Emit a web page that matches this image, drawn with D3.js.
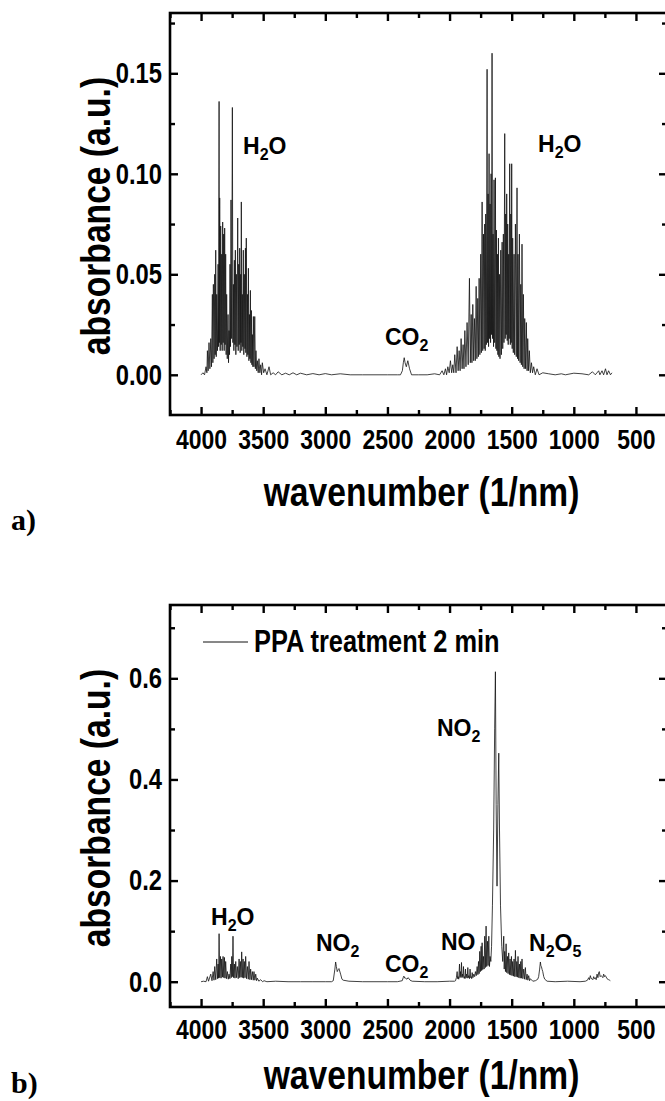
<!DOCTYPE html>
<html>
<head>
<meta charset="utf-8">
<script src="https://cdn.jsdelivr.net/npm/d3@7"></script>
<style>
  body { margin: 0; background: #fff; }
  svg { display: block; font-family: "Liberation Sans", Arial, sans-serif; font-weight: bold; }
</style>
</head>
<body>
<svg id="vis" width="665" height="1101"></svg>
<script>
const svg = d3.select("#vis");

// x axis (shared by both panels)
const X_TICKS = [4000, 3500, 3000, 2500, 2000, 1500, 1000, 500];

// panel a: spectrum as [wavenumber, absorbance]
const aWaterHigh = [
  [4000,0.000],[3985,0.001],[3972,0.000],[3960,0.004],[3953,0.001],[3949,0.012],[3943,0.002],[3936,0.016],[3929,0.003],
  [3922,0.018],[3916,0.004],[3909,0.040],[3905,0.006],[3901,0.045],[3895,0.008],[3890,0.050],[3886,0.010],[3882,0.062],
  [3878,0.009],[3874,0.040],[3868,0.012],[3863,0.055],[3859,0.014],[3855,0.136],[3853,0.016],[3850,0.088],[3846,0.012],
  [3842,0.074],[3838,0.015],[3834,0.060],[3830,0.012],[3826,0.076],[3822,0.016],[3818,0.070],[3814,0.012],[3810,0.073],
  [3806,0.015],[3802,0.060],[3798,0.010],[3794,0.040],[3789,0.008],[3783,0.030],[3779,0.006],[3775,0.022],[3771,0.010],
  [3767,0.055],[3763,0.014],[3759,0.087],[3754,0.018],[3748,0.133],[3744,0.016],[3740,0.045],[3736,0.012],[3732,0.057],
  [3728,0.015],[3724,0.062],[3720,0.010],[3716,0.050],[3711,0.014],[3705,0.078],[3701,0.012],[3697,0.055],[3693,0.015],
  [3689,0.063],[3685,0.011],[3681,0.050],[3679,0.016],[3676,0.086],[3672,0.012],[3668,0.040],[3664,0.014],[3660,0.062],
  [3656,0.010],[3652,0.050],[3647,0.013],[3643,0.063],[3640,0.011],[3636,0.068],[3631,0.009],[3627,0.040],[3623,0.010],
  [3619,0.053],[3615,0.007],[3611,0.030],[3607,0.008],[3603,0.042],[3599,0.006],[3595,0.032],[3591,0.005],[3587,0.020],
  [3583,0.004],[3579,0.029],[3574,0.004],[3568,0.029],[3563,0.003],[3558,0.012],[3552,0.002],[3547,0.007],[3540,0.001],
  [3534,0.008],[3527,0.001],[3520,0.005],[3513,0.000],[3507,0.006],[3496,0.001],[3485,0.003],[3470,0.000],[3453,0.004],
  [3440,0.000],[3420,0.001],[3400,0.000],[3380,0.0015],[3350,0.000],[3320,0.0008],[3290,0.000],[3260,0.001],[3230,0.000],
  [3200,0.0008],[3150,0.000],[3100,0.0006],[3050,0.000],[3000,0.0006],[2950,0.000],[2880,0.0005],[2800,0.000],[2700,0.000],
  [2600,0.000],[2500,0.000],[2420,0.000]
];
const aCO2 = [
  [2395,0.000],[2380,0.002],[2372,0.006],[2365,0.0085],[2358,0.006],[2348,0.004],[2336,0.007],[2322,0.003],[2306,0.000],
  [2250,0.000],[2180,0.000],[2120,0.0005],[2080,0.000]
];
const aWaterLow = [
  [2060,0.002],[2046,0.000],[2033,0.003],[2024,0.000],[2014,0.004],[2003,0.001],[1993,0.007],[1983,0.001],[1974,0.005],
  [1966,0.001],[1958,0.010],[1948,0.001],[1939,0.014],[1931,0.002],[1923,0.012],[1915,0.002],[1907,0.018],[1899,0.003],
  [1891,0.015],[1884,0.003],[1877,0.022],[1868,0.004],[1859,0.026],[1850,0.005],[1840,0.048],[1833,0.006],[1826,0.030],
  [1820,0.006],[1813,0.035],[1806,0.007],[1800,0.028],[1793,0.007],[1786,0.044],[1780,0.008],[1773,0.038],[1768,0.009],
  [1762,0.048],[1756,0.010],[1749,0.060],[1744,0.011],[1738,0.086],[1733,0.012],[1727,0.070],[1722,0.013],[1717,0.075],
  [1713,0.012],[1709,0.080],[1704,0.015],[1698,0.152],[1694,0.016],[1690,0.090],[1686,0.014],[1682,0.110],[1678,0.018],
  [1674,0.085],[1670,0.016],[1666,0.100],[1662,0.020],[1658,0.160],[1654,0.018],[1650,0.070],[1646,0.014],[1642,0.097],
  [1637,0.016],[1631,0.098],[1627,0.013],[1623,0.072],[1619,0.012],[1615,0.060],[1611,0.010],[1607,0.068],[1603,0.009],
  [1599,0.050],[1594,0.008],[1588,0.062],[1583,0.010],[1577,0.066],[1572,0.013],[1567,0.070],[1562,0.016],[1556,0.120],
  [1552,0.018],[1548,0.080],[1544,0.020],[1540,0.090],[1536,0.017],[1532,0.075],[1528,0.015],[1524,0.060],[1520,0.018],
  [1516,0.105],[1511,0.015],[1507,0.080],[1504,0.016],[1500,0.105],[1496,0.013],[1492,0.068],[1487,0.011],[1481,0.060],
  [1476,0.010],[1470,0.075],[1463,0.009],[1457,0.093],[1453,0.008],[1449,0.060],[1444,0.007],[1438,0.070],[1432,0.006],
  [1427,0.045],[1422,0.005],[1417,0.065],[1411,0.004],[1406,0.040],[1400,0.003],[1395,0.028],[1388,0.003],[1382,0.026],
  [1376,0.002],[1371,0.018],[1364,0.002],[1358,0.012],[1350,0.001],[1341,0.006],[1332,0.001],[1323,0.004],[1310,0.000],
  [1296,0.003],[1280,0.000],[1250,0.001],[1202,0.0005],[1150,0.000],[1100,0.0005],[1068,0.000],[1000,0.0008],[934,0.0005],
  [880,0.000],[850,0.0015],[827,0.000],[800,0.002],[790,0.000],[773,0.002],[760,0.000],[745,0.003],[733,0.000],[720,0.002],
  [705,0.000],[693,0.001]
];

// panel b: spectrum after PPA treatment
const bWater = [
  [4000,0.000],[3980,0.001],[3960,0.000],[3949,0.010],[3940,0.001],[3922,0.015],[3912,0.002],[3903,0.020],[3896,0.003],
  [3890,0.030],[3882,0.004],[3874,0.045],[3868,0.006],[3863,0.035],[3859,0.007],[3855,0.095],[3850,0.008],[3844,0.050],
  [3839,0.007],[3834,0.045],[3828,0.009],[3823,0.050],[3817,0.008],[3812,0.048],[3807,0.007],[3802,0.040],[3795,0.006],
  [3788,0.020],[3781,0.005],[3775,0.015],[3768,0.006],[3761,0.035],[3757,0.008],[3753,0.050],[3748,0.010],[3743,0.090],
  [3738,0.008],[3732,0.035],[3727,0.007],[3721,0.040],[3715,0.008],[3708,0.030],[3701,0.006],[3694,0.045],[3689,0.008],
  [3684,0.040],[3678,0.009],[3673,0.059],[3668,0.008],[3662,0.045],[3657,0.007],[3652,0.040],[3646,0.008],[3641,0.050],
  [3634,0.006],[3627,0.030],[3620,0.005],[3614,0.040],[3607,0.004],[3601,0.025],[3594,0.004],[3587,0.020],[3580,0.003],
  [3574,0.020],[3567,0.003],[3560,0.015],[3553,0.002],[3547,0.007],[3535,0.001],[3520,0.004],[3505,0.000],[3493,0.002],
  [3470,0.000],[3400,0.001],[3300,0.000],[3200,0.000],[3100,0.000],[3000,0.000],[2950,0.000]
];
const bNO2High = [
  [2936,0.002],[2923,0.025],[2917,0.039],[2911,0.030],[2904,0.020],[2896,0.024],[2890,0.026],[2877,0.015],[2866,0.005],
  [2856,0.003],[2810,0.001],[2700,0.000],[2600,0.000],[2500,0.000],[2420,0.000]
];
const bCO2 = [
  [2381,0.002],[2373,0.008],[2368,0.011],[2360,0.007],[2354,0.007],[2343,0.005],[2333,0.008],[2318,0.003],[2301,0.001],
  [2200,0.000],[2100,0.000],[2000,0.001],[1960,0.001]
];
const bNO = [
  [1952,0.002],[1945,0.008],[1939,0.020],[1935,0.006],[1931,0.010],[1926,0.005],[1920,0.035],[1916,0.008],[1912,0.020],
  [1908,0.010],[1904,0.038],[1900,0.008],[1896,0.015],[1892,0.010],[1888,0.030],[1884,0.007],[1880,0.010],[1876,0.006],
  [1872,0.025],[1868,0.008],[1864,0.015],[1858,0.007],[1853,0.028],[1849,0.008],[1845,0.012],[1840,0.006],[1835,0.025],
  [1830,0.008],[1826,0.010],[1822,0.006],[1818,0.018],[1812,0.008],[1805,0.015],[1798,0.010],[1792,0.020],[1785,0.012],
  [1778,0.030],[1772,0.014],[1767,0.040],[1762,0.016],[1757,0.060],[1752,0.020],[1746,0.070],[1742,0.022],[1738,0.077],
  [1733,0.024],[1727,0.050],[1722,0.025],[1717,0.090],[1712,0.028],[1706,0.110],[1701,0.030],[1695,0.080],[1690,0.032],
  [1684,0.090],[1679,0.030],[1674,0.050],[1668,0.040]
];
const bNO2Main = [
  [1662,0.070],[1655,0.150],[1645,0.300],[1637,0.500],[1631,0.613],[1625,0.350],[1618,0.189],[1611,0.350],[1604,0.452],
  [1598,0.300],[1590,0.150],[1580,0.070],[1572,0.040]
];
const bNO2Low = [
  [1564,0.090],[1560,0.025],[1556,0.060],[1550,0.020],[1545,0.075],[1540,0.018],[1534,0.050],[1529,0.016],[1524,0.057],
  [1518,0.014],[1513,0.045],[1507,0.013],[1502,0.050],[1497,0.012],[1492,0.040],[1486,0.011],[1481,0.045],[1475,0.010],
  [1470,0.062],[1464,0.010],[1459,0.040],[1454,0.009],[1449,0.050],[1443,0.008],[1438,0.035],[1432,0.007],[1427,0.040],
  [1422,0.007],[1417,0.045],[1410,0.006],[1403,0.025],[1396,0.005],[1390,0.028],[1383,0.004],[1376,0.015],[1370,0.003],
  [1363,0.012],[1356,0.002],[1350,0.006],[1330,0.001],[1309,0.002]
];
const bN2O5 = [
  [1290,0.005],[1283,0.010],[1275,0.025],[1269,0.039],[1265,0.032],[1261,0.030],[1255,0.024],[1250,0.020],[1242,0.010],
  [1234,0.005],[1215,0.001],[1150,0.000],[1050,0.001],[950,0.000],[907,0.001]
];
const bTail = [
  [890,0.003],[880,0.008],[874,0.004],[867,0.012],[860,0.006],[854,0.006],[847,0.004],[840,0.010],[834,0.006],[827,0.008],
  [820,0.004],[813,0.015],[806,0.008],[800,0.018],[795,0.020],[788,0.010],[780,0.012],[773,0.010],[766,0.008],[760,0.015],
  [752,0.010],[746,0.012],[741,0.010],[733,0.006],[720,0.004],[712,0.003],[706,0.002]
];

const FONT = "'Liberation Sans', Arial, sans-serif";
const SQUEEZE = 0.82; // the figure's lettering is narrow, like Arial Narrow

const panels = [
  {
    top: 13, bottom: 415, yDomain: [-0.02, 0.18], yTicks: [0, 0.05, 0.10, 0.15], yMinor: 0.025, yFmt: ".2f",
    series: [aWaterHigh, aCO2, aWaterLow],
    notes: [
      {x: 243, y: 154, text: ["H", "2", "O"]},
      {x: 538, y: 152, text: ["H", "2", "O"]},
      {x: 385, y: 345, text: ["CO", "2", ""]}
    ],
    letter: "a)", letterY: 530, tickLabelY: 449, titleY: 506
  },
  {
    top: 605, bottom: 1007, yDomain: [-0.05, 0.745], yTicks: [0, 0.2, 0.4, 0.6], yMinor: 0.1, yFmt: ".1f",
    series: [bWater, bNO2High, bCO2, bNO, bNO2Main, bNO2Low, bN2O5, bTail],
    notes: [
      {x: 211, y: 925, text: ["H", "2", "O"]},
      {x: 316, y: 951, text: ["NO", "2", ""]},
      {x: 385, y: 972, text: ["CO", "2", ""]},
      {x: 441, y: 950, text: ["NO", "", ""]},
      {x: 529, y: 951, text: ["N", "2", "O", "5"]},
      {x: 437, y: 736, text: ["NO", "2", ""]}
    ],
    legend: "PPA treatment 2 min",
    letter: "b)", letterY: 1093, tickLabelY: 1039, titleY: 1089
  }
];

const LEFT = 170, RIGHT = 667;
const x = d3.scaleLinear().domain([4250, 250]).range([LEFT, RIGHT]);

function drawPanel(p) {
  const y = d3.scaleLinear().domain(p.yDomain).range([p.bottom, p.top]);
  const g = svg.append("g");

  // spectrum
  const line = d3.line().x(d => x(d[0])).y(d => y(d[1]));
  const all = [].concat(...p.series);
  g.append("path")
    .attr("d", line(all))
    .attr("fill", "none")
    .attr("stroke", "#111")
    .attr("stroke-width", 0.8)
    .attr("stroke-linejoin", "round");

  // inward ticks, major and minor, on all four sides
  const xMinor = d3.range(4250, 249, -250).filter(v => v % 500 !== 0);
  const yMinorVals = [];
  for (let v = Math.ceil(p.yDomain[0] / p.yMinor) * p.yMinor; v < p.yDomain[1]; v += p.yMinor) {
    const r = +v.toFixed(4);
    if (!p.yTicks.some(t => Math.abs(t - r) < 1e-6)) yMinorVals.push(r);
  }

  const gb = g.append("g").attr("transform", `translate(0,${p.bottom})`)
    .call(d3.axisBottom(x).tickValues(X_TICKS).tickSize(-8).tickFormat(d3.format("d")));
  gb.selectAll("text").attr("font-size", 28).attr("font-family", FONT)
    .attr("font-weight", "bold").attr("fill", "#000").attr("dy", null)
    .attr("y", p.tickLabelY - p.bottom).attr("transform", `scale(${SQUEEZE},1)`);
  g.append("g").attr("transform", `translate(0,${p.bottom})`)
    .call(d3.axisBottom(x).tickValues(xMinor).tickSize(-5).tickFormat(""));
  g.append("g").attr("transform", `translate(0,${p.top})`)
    .call(d3.axisTop(x).tickValues(X_TICKS).tickSize(-8).tickFormat(""));
  g.append("g").attr("transform", `translate(0,${p.top})`)
    .call(d3.axisTop(x).tickValues(xMinor).tickSize(-5).tickFormat(""));

  const gl = g.append("g").attr("transform", `translate(${LEFT},0)`)
    .call(d3.axisLeft(y).tickValues(p.yTicks).tickSize(-8).tickFormat(d3.format(p.yFmt)));
  gl.selectAll("text").attr("font-size", 29).attr("font-family", FONT)
    .attr("font-weight", "bold").attr("fill", "#000")
    .attr("x", -8 / SQUEEZE).attr("transform", `scale(${SQUEEZE},1)`);
  g.append("g").attr("transform", `translate(${LEFT},0)`)
    .call(d3.axisLeft(y).tickValues(yMinorVals).tickSize(-5).tickFormat(""));
  g.append("g").attr("transform", `translate(${RIGHT},0)`)
    .call(d3.axisRight(y).tickValues(p.yTicks).tickSize(-8).tickFormat(""));
  g.append("g").attr("transform", `translate(${RIGHT},0)`)
    .call(d3.axisRight(y).tickValues(yMinorVals).tickSize(-5).tickFormat(""));

  g.selectAll(".domain").remove();
  g.selectAll(".tick line").attr("stroke", "#000").attr("stroke-width", 2.4);

  // frame
  g.append("rect")
    .attr("x", LEFT).attr("y", p.top)
    .attr("width", RIGHT - LEFT).attr("height", p.bottom - p.top)
    .attr("fill", "none").attr("stroke", "#000").attr("stroke-width", 2.6);

  // axis titles
  g.append("text")
    .attr("transform", `translate(${(LEFT + RIGHT) / 2 + 3},${p.titleY}) scale(${SQUEEZE},1)`)
    .attr("text-anchor", "middle").attr("font-size", 41)
    .text("wavenumber (1/nm)");
  g.append("text")
    .attr("transform", `translate(110,${(p.top + p.bottom) / 2 + 2}) rotate(-90) scale(${SQUEEZE},1)`)
    .attr("text-anchor", "middle").attr("font-size", 41)
    .text("absorbance (a.u.)");

  // peak labels with subscripts
  p.notes.forEach(n => {
    const t = g.append("text").attr("x", n.x).attr("y", n.y).attr("font-size", 23);
    n.text.forEach((s, i) => {
      if (!s) return;
      const sub = i % 2 === 1;
      t.append("tspan").attr("font-size", sub ? 16 : 23)
        .attr("dy", i === 0 ? 0 : (sub ? 6 : -6)).text(s);
    });
  });

  if (p.legend) {
    const ly = p.top + 37;
    g.append("line").attr("x1", 203).attr("x2", 248).attr("y1", ly).attr("y2", ly)
      .attr("stroke", "#111").attr("stroke-width", 1);
    g.append("text")
      .attr("transform", `translate(254,${ly + 10}) scale(${SQUEEZE},1)`)
      .attr("font-size", 31).text(p.legend);
  }

  svg.append("text")
    .attr("x", 11).attr("y", p.letterY)
    .attr("font-family", "'Liberation Serif', 'Times New Roman', serif")
    .attr("font-size", 30).attr("font-weight", "bold")
    .text(p.letter);
}

panels.forEach(drawPanel);
</script>
</body>
</html>
